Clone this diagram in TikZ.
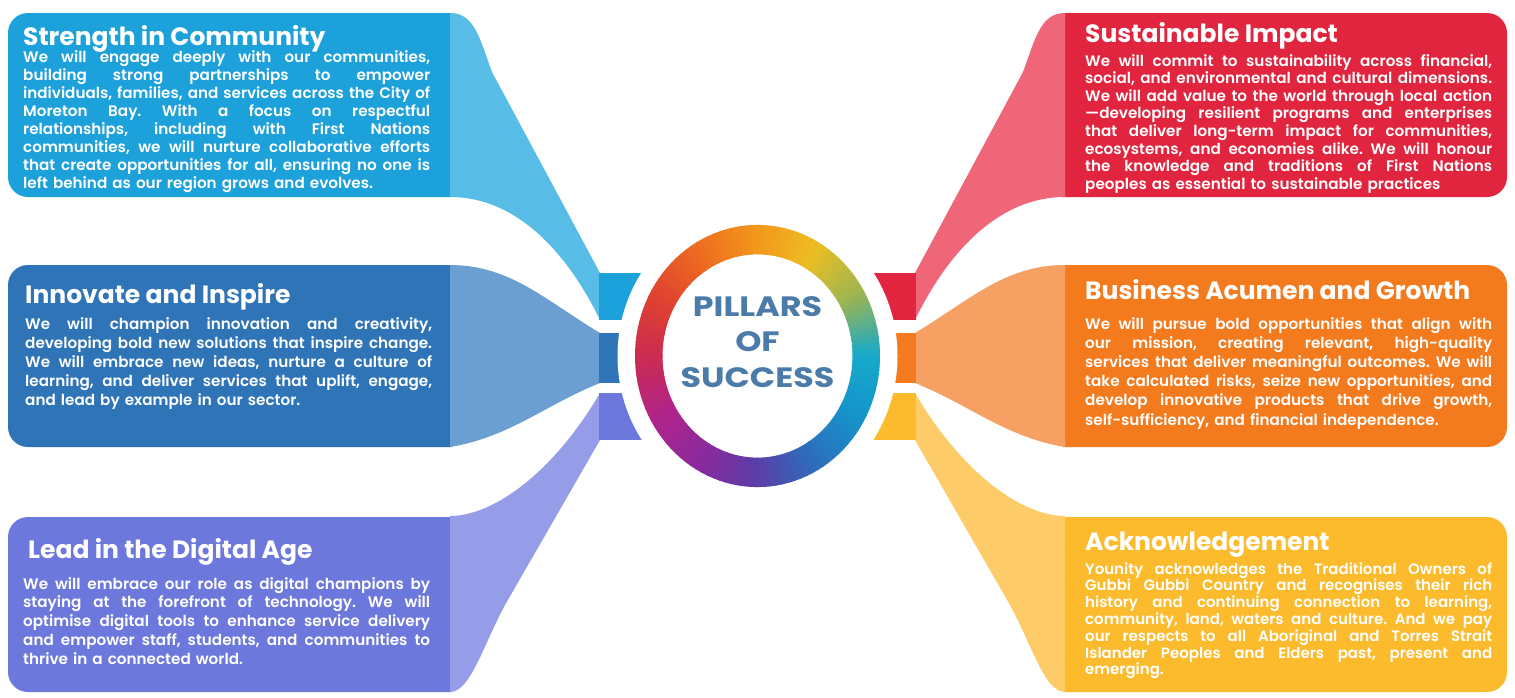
\documentclass[tikz,border=0pt]{standalone}
\usepackage{fontspec}
\usepackage{graphicx}
\setmainfont{Poppins}
\newfontfamily\popsemi{Poppins SemiBold}
\newfontfamily\popbold{Poppins}[UprightFont={* Bold}]
\definecolor{sAd}{HTML}{1DA1DB}\definecolor{sAl}{HTML}{57BDE7}
\definecolor{sBd}{HTML}{2F74B7}\definecolor{sBl}{HTML}{6C9FD1}
\definecolor{sCd}{HTML}{6D78DC}\definecolor{sCl}{HTML}{969DE8}
\definecolor{rAd}{HTML}{E2253F}\definecolor{rAl}{HTML}{EE6677}
\definecolor{rBd}{HTML}{F47A1E}\definecolor{rBl}{HTML}{F7A063}
\definecolor{rCd}{HTML}{FBBB2D}\definecolor{rCl}{HTML}{FDCB68}
\definecolor{pillartext}{HTML}{4A7BA9}
\definecolor{rk0}{HTML}{F2981C}
\definecolor{rk1}{HTML}{EDBE22}
\definecolor{rk2}{HTML}{9DB551}
\definecolor{rk3}{HTML}{16A9CB}
\definecolor{rk4}{HTML}{1594CB}
\definecolor{rk5}{HTML}{2C6EBB}
\definecolor{rk6}{HTML}{5A3EA8}
\definecolor{rk7}{HTML}{8A2A9E}
\definecolor{rk8}{HTML}{B0248A}
\definecolor{rk9}{HTML}{CC2C50}
\definecolor{rk10}{HTML}{E0432E}
\definecolor{rk11}{HTML}{EE6D20}
\definecolor{rk12}{HTML}{F2981C}
\newlength\jw
\newlength\bodyw
\setlength\bodyw{407pt}
\newcommand\jl[1]{{\frenchspacing\settowidth\jw{#1}%
  \ifdim\jw>\bodyw\resizebox{\bodyw}{\height}{#1}%
  \else\spaceskip=\fontdimen2\font plus 1fil\relax\xspaceskip=\spaceskip\makebox[\bodyw][s]{#1}\fi}}
\newcommand\lastline[1]{{\frenchspacing\settowidth\jw{#1}\ifdim\jw>\bodyw\resizebox{\bodyw}{\height}{#1}\else#1\fi}}
\newcommand\wideword[1]{\scalebox{1.19}[1]{#1}}
\newcommand\pillarshapes[6]{%
 \fill[#1, rounded corners=20pt] (452,13) -- (8,13) -- (8,197) -- (452,197);
 \fill[#2] (450,13) .. controls (475,13) and (480,40) .. (492,72) -- (600,273) -- (600,320) .. controls (570,258) and (520,197) .. (450,197) -- cycle;
 \fill[#1] (599,273) rectangle (665,320);
 \fill[#3, rounded corners=20pt] (452,265) -- (8,265) -- (8,447) -- (452,447);
 \fill[#4] (450,265) .. controls (510,265) and (545,300) .. (600,333) -- (600,383) .. controls (545,405) and (510,437) .. (450,447) -- cycle;
 \fill[#3] (599,333) rectangle (665,383);
 \fill[#5, rounded corners=20pt] (452,517) -- (8,517) -- (8,692) -- (452,692);
 \fill[#6] (450,516) .. controls (495,516) and (555,470) .. (600,393) -- (600,440) -- (505,605) .. controls (482,648) and (470,692) .. (450,692) -- cycle;
 \fill[#5] (599,393) rectangle (665,440);
}
\tikzset{
 ttl/.style={anchor=base west, inner sep=0pt, text=white, font=\popbold\fontsize{25}{29}\selectfont},
 bodytxt/.style={anchor=base west, inner sep=0pt, text=white, text width=407pt, align=left},
}
\begin{document}
\begin{tikzpicture}[x=1pt, y=-1pt]
\useasboundingbox (0,0) rectangle (1515,697);
\fill[white] (0,0) rectangle (1515,697);
% left pillars
\pillarshapes{sAd}{sAl}{sBd}{sBl}{sCd}{sCl}
% right pillars (mirrored)
\begin{scope}[xshift=1515pt, xscale=-1]
\pillarshapes{rAd}{rAl}{rBd}{rBl}{rCd}{rCl}
\end{scope}
% gap round the ring
\fill[white] (757.5,356) ellipse [x radius=140pt, y radius=149pt];
% ring with conic gradient
\begin{scope}[shift={(757.5,356)}, yscale=1.07]
\foreach \i in {0,...,11} {
  \pgfmathtruncatemacro\ni{\i+1}
  \foreach \j in {0,...,9} {
    \pgfmathsetmacro\a{90-30*\i-3*\j}
    \pgfmathsetmacro\b{\a-3.5}
    \pgfmathtruncatemacro\q{95-10*\j}
    \fill[rk\i!\q!rk\ni] (\a:95pt) arc[start angle=\a, end angle=\b, radius=95pt] -- (\b:122.5pt) arc[start angle=\b, end angle=\a, radius=122.5pt] -- cycle;
  }
}
\end{scope}
\node[align=center, text=pillartext, font=\popbold\fontsize{28}{35.5}\selectfont, inner sep=0pt] (center) at (757.5,342) {\wideword{PILLARS}\\\wideword{OF}\\\wideword{SUCCESS}};
% titles
\node[ttl] (t1) at (23,45) {Strength in Community};
\node[ttl] (t2) at (25,303) {Innovate and Inspire};
\node[ttl] (t3) at (28,558) {Lead in the Digital Age};
\node[ttl] (t4) at (1085,42) {Sustainable Impact};
\node[ttl] (t5) at (1085,299) {Business Acumen and Growth};
\node[ttl] (t6) at (1085,550) {Acknowledgement};
% bodies
\node[bodytxt, font=\popsemi\fontsize{15.2}{18}\selectfont] (b1) at (23,62) {%
\jl{We will engage deeply with our communities,}\\
\jl{building strong partnerships to empower}\\
\jl{individuals, families, and services across the City of}\\
\jl{Moreton Bay. With a focus on respectful}\\
\jl{relationships, including with First Nations}\\
\jl{communities, we will nurture collaborative efforts}\\
\jl{that create opportunities for all, ensuring no one is}\\
\lastline{left behind as our region grows and evolves.}};
\node[bodytxt, font=\popsemi\fontsize{15.2}{19.2}\selectfont] (b2) at (25,329) {%
\jl{We will champion innovation and creativity,}\\
\jl{developing bold new solutions that inspire change.}\\
\jl{We will embrace new ideas, nurture a culture of}\\
\jl{learning, and deliver services that uplift, engage,}\\
\lastline{and lead by example in our sector.}};
\node[bodytxt, font=\popsemi\fontsize{15.2}{18.8}\selectfont] (b3) at (23,589) {%
\jl{We will embrace our role as digital champions by}\\
\jl{staying at the forefront of technology. We will}\\
\jl{optimise digital tools to enhance service delivery}\\
\jl{and empower staff, students, and communities to}\\
\lastline{thrive in a connected world.}};
\node[bodytxt, font=\popsemi\fontsize{15.2}{17.6}\selectfont] (b4) at (1085,66) {%
\jl{We will commit to sustainability across financial,}\\
\jl{social, and environmental and cultural dimensions.}\\
\jl{We will add value to the world through local action}\\
\jl{—developing resilient programs and enterprises}\\
\jl{that deliver long-term impact for communities,}\\
\jl{ecosystems, and economies alike. We will honour}\\
\jl{the knowledge and traditions of First Nations}\\
\lastline{peoples as essential to sustainable practices}};
\node[bodytxt, font=\popsemi\fontsize{15.2}{19.2}\selectfont] (b5) at (1085,329) {%
\jl{We will pursue bold opportunities that align with}\\
\jl{our mission, creating relevant, high-quality}\\
\jl{services that deliver meaningful outcomes. We will}\\
\jl{take calculated risks, seize new opportunities, and}\\
\jl{develop innovative products that drive growth,}\\
\lastline{self-sufficiency, and financial independence.}};
\node[bodytxt, font=\popsemi\fontsize{15}{16.8}\selectfont] (b6) at (1085,574) {%
\jl{Younity acknowledges the Traditional Owners of}\\
\jl{Gubbi Gubbi Country and recognises their rich}\\
\jl{history and continuing connection to learning,}\\
\jl{community, land, waters and culture. And we pay}\\
\jl{our respects to all Aboriginal and Torres Strait}\\
\jl{Islander Peoples and Elders past, present and}\\
\lastline{emerging.}};
\end{tikzpicture}
\end{document}
